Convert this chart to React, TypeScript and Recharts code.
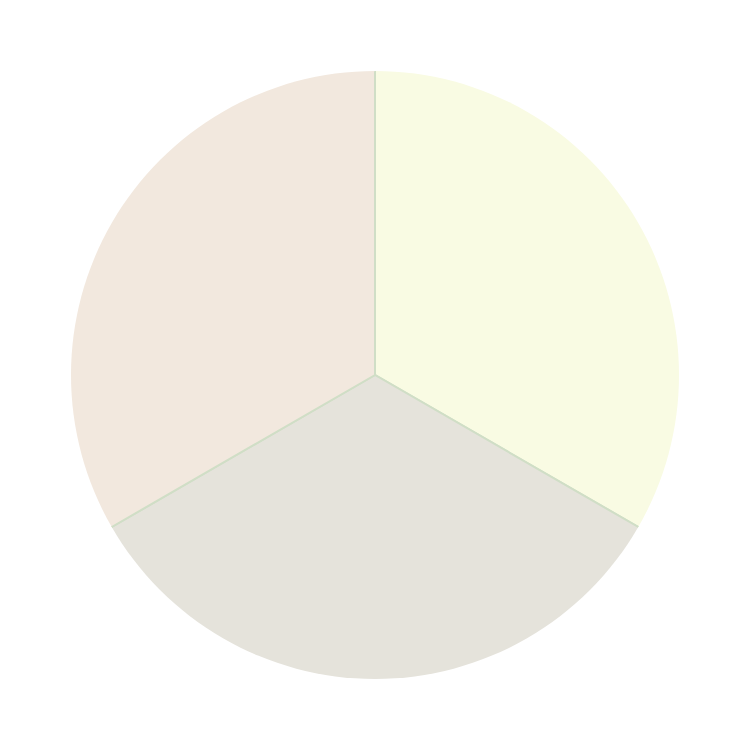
import React from "react";
import { PieChart, Pie, Cell } from "recharts";

const names = ["A", "B", "C"];
const values = [1, 1, 1];
const colors = ["#f9fbe3", "#e5e3db", "#f2e8de"];

const data = names.map((n, i) => ({ name: n, value: values[i] }));

const R = 304;
const arcLen = (R * 2 * Math.PI) / 3;

export default function App() {
  return (
    <div style={{ position: "absolute", left: 0, top: 0 }}>
      <PieChart width={750} height={750}>
        <Pie
          data={data}
          dataKey="value"
          cx={370}
          cy={370}
          outerRadius={R}
          startAngle={90}
          endAngle={-270}
          stroke="#d0dec6"
          strokeWidth={2}
          strokeDasharray={`0 ${arcLen} ${2 * R + 2} 0`}
          isAnimationActive={false}
        >
          {data.map((d, i) => (
            <Cell key={d.name} fill={colors[i]} />
          ))}
        </Pie>
      </PieChart>
    </div>
  );
}
